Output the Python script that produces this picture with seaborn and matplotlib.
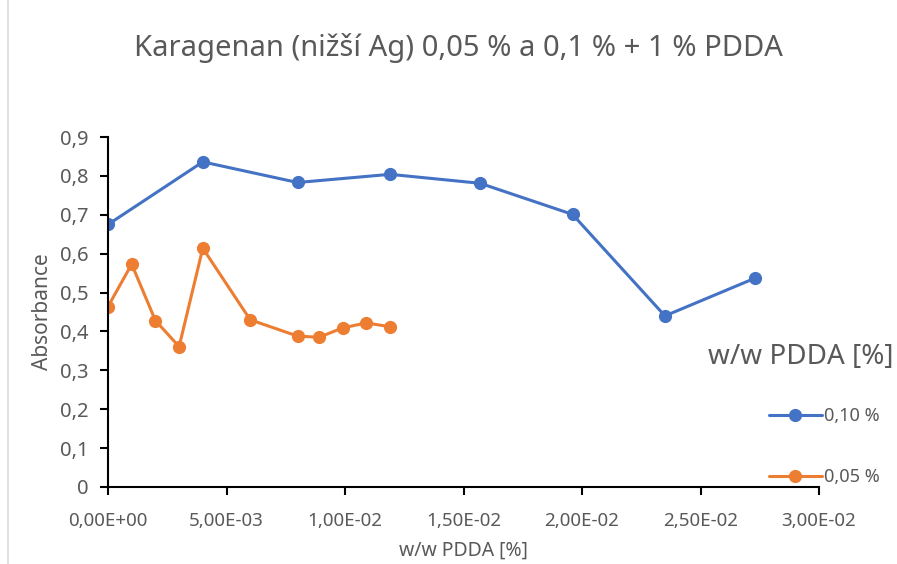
import matplotlib
matplotlib.use("Agg")
import matplotlib.pyplot as plt
from matplotlib.ticker import FuncFormatter, MultipleLocator
from matplotlib.lines import Line2D
import seaborn as sns
import pandas as pd

# Data
x_010 = [0.0, 0.0040, 0.0080, 0.0119, 0.0157, 0.0196, 0.0235, 0.0273]
y_010 = [0.675, 0.836, 0.783, 0.804, 0.781, 0.701, 0.440, 0.537]
x_005 = [0.0, 0.0010, 0.0020, 0.0030, 0.0040, 0.0060, 0.0080, 0.0089, 0.0099, 0.0109, 0.0119]
y_005 = [0.464, 0.573, 0.428, 0.361, 0.614, 0.430, 0.388, 0.385, 0.409, 0.422, 0.412]
series_labels = ["0,10 %", "0,05 %"]
colors = ["#4472C4", "#ED7D31"]
title = "Karagenan (nižší Ag) 0,05 % a 0,1 % + 1 % PDDA"
xlabel = "w/w PDDA [%]"
ylabel = "Absorbance"
legend_title = "w/w PDDA [%]"

df = pd.concat([
    pd.DataFrame({"x": x_010, "y": y_010, "s": series_labels[0]}),
    pd.DataFrame({"x": x_005, "y": y_005, "s": series_labels[1]}),
], ignore_index=True)

sns.set_theme(style="white")
plt.rcParams["font.family"] = ["Noto Sans", "DejaVu Sans"]
grey = "#595959"

fig = plt.figure(figsize=(8.97, 5.64), dpi=100)
ax = fig.add_axes([108/897, 1-487/564, (819-108)/897, (487-137)/564])

sns.lineplot(data=df, x="x", y="y", hue="s", palette=colors, marker="o",
             markersize=9.5, markeredgewidth=0, linewidth=2.2, sort=False,
             estimator=None, ax=ax, legend=False)

ax.set_xlim(0, 0.03)
ax.set_ylim(0, 0.9)
ax.xaxis.set_major_locator(MultipleLocator(0.005))
ax.yaxis.set_major_locator(MultipleLocator(0.1))

def xfmt(v, pos):
    s = "%.2E" % v
    mant, exp = s.split("E")
    return mant.replace(".", ",") + "E" + exp

def yfmt(v, pos):
    if abs(v) < 1e-9:
        return "0"
    return ("%.1f" % v).replace(".", ",")

ax.xaxis.set_major_formatter(FuncFormatter(xfmt))
ax.yaxis.set_major_formatter(FuncFormatter(yfmt))

for sp in ["top", "right"]:
    ax.spines[sp].set_visible(False)
for sp in ["left", "bottom"]:
    ax.spines[sp].set_color("black")
    ax.spines[sp].set_linewidth(1.5)
ax.tick_params(axis="both", which="major", direction="out", length=6, width=1.5,
               color="black", labelcolor=grey, labelsize=13.5, left=True, bottom=True)
ax.tick_params(axis="y", labelsize=14.5, pad=8)
ax.tick_params(axis="x", pad=12)
ax.set_xlabel(xlabel, color=grey, fontsize=14, labelpad=8)
ax.set_ylabel(ylabel, color=grey, fontsize=15, labelpad=5)

fig.text(0.511, 1-48/564, title, ha="center", va="center", color=grey,
         fontsize=21)

# legend title drawn as text, right-aligned like the reference
fig.text(893/897, 1-357/564, legend_title, ha="right", va="center", color=grey,
         fontsize=20)

handles = [Line2D([], [], color=c, marker="o", markersize=9.5, markeredgewidth=0, linewidth=2.2)
           for c in colors]
leg = fig.legend(handles, series_labels, loc="upper right",
                 bbox_to_anchor=(1.0 - 8/897, 1-398/564), frameon=False, fontsize=13,
                 labelspacing=2.4, handlelength=2.9, handletextpad=0.15,
                 borderaxespad=0.3, borderpad=0.2)
for t in leg.get_texts():
    t.set_color(grey)

fig.add_artist(Line2D([8/897, 8/897], [0, 1], transform=fig.transFigure,
                      color="#D9D9D9", linewidth=1.2))

fig.savefig("out.png", dpi=100)
